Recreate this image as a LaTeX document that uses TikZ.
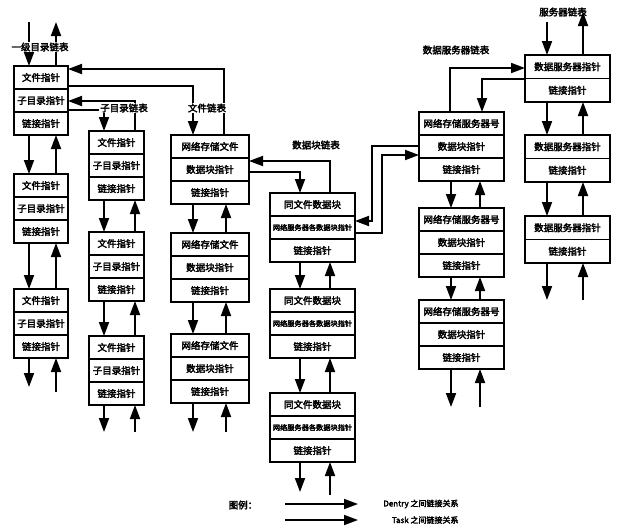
\documentclass[tikz,border=0pt]{standalone}
\usepackage{fontspec}
\newfontfamily\cjk{Noto Sans CJK SC}[AutoFakeBold=3]
\usetikzlibrary{arrows.meta}
\tikzset{
 cell/.style={draw,line width=1.8pt,outer sep=0pt,inner sep=0pt,minimum height=23pt,font=\cjk\bfseries\fontsize{9.5}{9.5}\selectfont},
 smalltxt/.style={font=\cjk\bfseries\fontsize{7.2}{7.2}\selectfont},
 arr/.style={line width=1.8pt,-{Triangle[width=10pt,length=14pt]}},
 lab/.style={font=\cjk\bfseries\fontsize{9.5}{9.5}\selectfont,fill=white,inner sep=1pt},
}
\newcommand\mkboxiii[7][]{%
 \node[cell,minimum width=#4,anchor=north west] (#2a) at (#3) {#5};
 \node[cell,minimum width=#4,anchor=north west,#1] (#2b) at (#2a.south west) {#6};
 \node[cell,minimum width=#4,anchor=north west] (#2c) at (#2b.south west) {#7};}
\newcommand\mkboxii[5]{%
 \node[cell,minimum width=#3,minimum height=23.5pt,anchor=north west] (#1a) at (#2) {#4};
 \node[cell,minimum width=#3,minimum height=23.5pt,anchor=north west] (#1c) at (#1a.south west) {#5};}
\newcommand\vlinks[4]{%
 \draw[arr] (#1.south -| #3,0) -- (#2.north -| #3,0);
 \draw[arr] (#2.north -| #4,0) -- (#1.south -| #4,0);}
\newcommand\stubs[5]{%
 \coordinate (#1d) at (#2,#4);
 \coordinate (#1u) at (#3,#5);
 \draw[arr] (#1.south -| #1d) -- (#1d);
 \draw[arr] (#1u) -- (#1.south -| #1u);}
\begin{document}
\begin{tikzpicture}[x=1pt,y=-1pt]
\useasboundingbox (0,0) rectangle (620,528);
% column A
\mkboxiii{a1}{14,66}{54}{文件指针}{子目录指针}{链接指针}
\mkboxiii{a2}{14,174}{54}{文件指针}{子目录指针}{链接指针}
\mkboxiii{a3}{14,289}{54}{文件指针}{子目录指针}{链接指针}
% column B
\mkboxiii{b1}{89,131}{55}{文件指针}{子目录指针}{链接指针}
\mkboxiii{b2}{89,232}{55}{文件指针}{子目录指针}{链接指针}
\mkboxiii{b3}{89,336}{55}{文件指针}{子目录指针}{链接指针}
% column C
\mkboxiii{c1}{171,135}{78}{网络存储文件}{数据块指针}{链接指针}
\mkboxiii{c2}{171,233}{78}{网络存储文件}{数据块指针}{链接指针}
\mkboxiii{c3}{171,334}{78}{网络存储文件}{数据块指针}{链接指针}
% column D
\mkboxiii[smalltxt]{d1}{270,193}{85}{同文件数据块}{网络服务器各数据块指针}{链接指针}
\mkboxiii[smalltxt]{d2}{270,289}{85}{同文件数据块}{网络服务器各数据块指针}{链接指针}
\mkboxiii[smalltxt]{d3}{270,393}{85}{同文件数据块}{网络服务器各数据块指针}{链接指针}
% column E
\mkboxiii{e1}{419,112}{85}{网络存储服务器号}{数据块指针}{链接指针}
\mkboxiii{e2}{419,208}{85}{网络存储服务器号}{数据块指针}{链接指针}
\mkboxiii{e3}{419,300}{85}{网络存储服务器号}{数据块指针}{链接指针}
% column F
\mkboxii{f1}{525,55}{85}{数据服务器指针}{链接指针}
\mkboxii{f2}{525,135}{85}{数据服务器指针}{链接指针}
\mkboxii{f3}{525,216}{85}{数据服务器指针}{链接指针}
% vertical links
\vlinks{a1c}{a2a}{29}{56}
\vlinks{a2c}{a3a}{29}{56}
\vlinks{b1c}{b2a}{104}{135}
\vlinks{b2c}{b3a}{104}{135}
\vlinks{c1c}{c2a}{193}{226}
\vlinks{c2c}{c3a}{193}{226}
\vlinks{d1c}{d2a}{300}{330}
\vlinks{d2c}{d3a}{300}{330}
\vlinks{e1c}{e2a}{451}{480}
\vlinks{e2c}{e3a}{451}{480}
\vlinks{f1c}{f2a}{547}{583}
\vlinks{f2c}{f3a}{547}{583}
% bottom stubs
\stubs{a3c}{29}{56}{387}{392}
\stubs{b3c}{104}{135}{432}{432}
\stubs{c3c}{193}{226}{432}{432}
\stubs{d3c}{300}{330}{492}{495}
\stubs{e3c}{451}{480}{407}{407}
\stubs{f3c}{547}{583}{300}{300}
% top of A
\coordinate (atopd) at (29,22);
\coordinate (atopu) at (56,22);
\draw[arr] (atopd) -- (a1a.north -| atopd);
\draw[arr] (a1a.north -| atopu) -- (atopu);
\node[lab] (labA) at (40,47) {一级目录链表};
% A1 row2 <-> B1
\draw[arr] (a1b.east |- 0,110) -| (b1a.north -| 104,0);
\draw[arr] (b1a.north -| 135,0) |- (a1b.east |- 0,101);
\node[lab] (labB) at (124,108) {子目录链表};
% A1 row1 <-> C1
\draw[arr] (a1a.east |- 0,86) -| (c1a.north -| 193,0);
\draw[arr] (c1a.north -| 224,0) |- (a1a.east |- 0,69);
\node[lab] (labC) at (207,108) {文件链表};
% C1 row2 <-> D1
\draw[arr] (c1b.east |- 0,172) -| (d1a.north -| 300,0);
\draw[arr] (d1a.north -| 330,0) |- (c1b.east |- 0,161);
\node[lab] (labD) at (316,145) {数据块链表};
% D1 row2 <-> E1 row2
\draw[arr] (e1b.west |- 0,146) -- (372,146) -- (372,221) -- (d1b.east |- 0,221);
\draw[arr] (d1b.east |- 0,233) -- (382,233) -- (382,155) -- (e1b.west |- 0,155);
% E1 top <-> F1
\draw[arr] (e1a.north -| 450,0) |- (f1a.west |- 0,68);
\draw[arr] (f1a.west |- 0,79) -| (e1a.north -| 482,0);
\node[lab] (labE) at (456,50) {数据服务器链表};
% top of F
\node[lab] (labF) at (563,12) {服务器链表};
\coordinate (ftopd) at (547,22);
\coordinate (ftopu) at (583,12);
\draw[arr] (ftopd) -- (f1a.north -| ftopd);
\draw[arr] (f1a.north -| ftopu) -- (ftopu);
% legend
\node[font=\cjk\bfseries\fontsize{9.5}{9.5}\selectfont] (legt) at (243,505) {图例：};
\coordinate (l1s) at (285,504);
\coordinate (l1e) at (358,504);
\coordinate (l2s) at (285,520);
\coordinate (l2e) at (358,520);
\draw[arr] (l1s) -- (l1e);
\draw[arr] (l2s) -- (l2e);
\node[font=\cjk\bfseries\fontsize{8}{8}\selectfont,anchor=east] (leg1) at (462,504) {Dentry 之间链接关系};
\node[font=\cjk\bfseries\fontsize{8}{8}\selectfont,anchor=east] (leg2) at (462,520) {Task 之间链接关系};
\end{tikzpicture}
\end{document}
